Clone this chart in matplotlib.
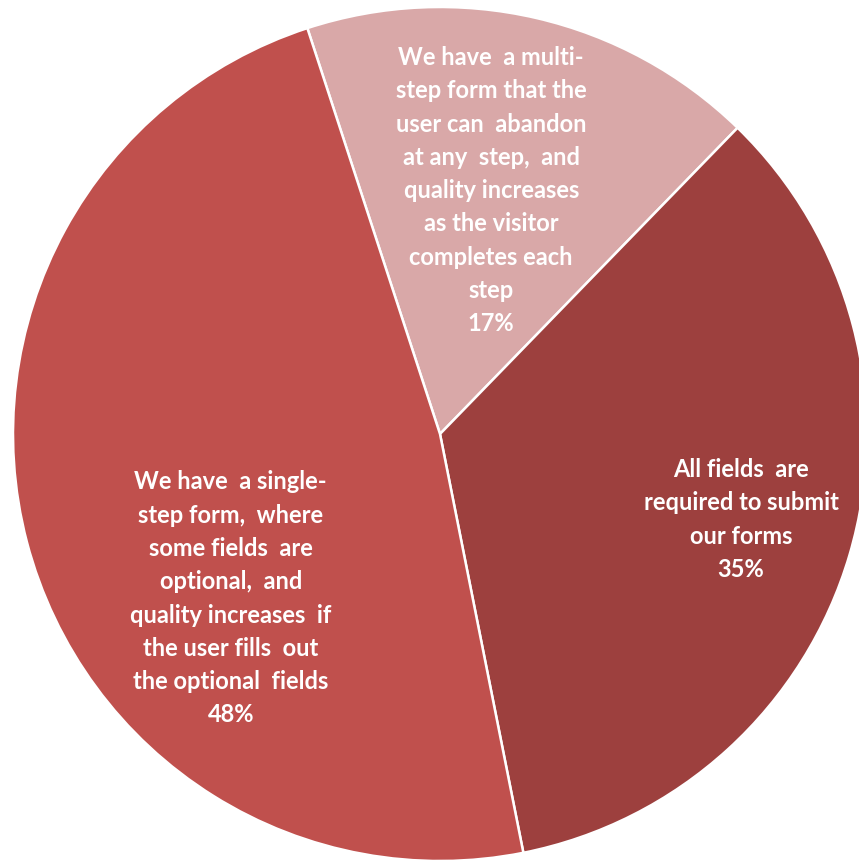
import matplotlib.pyplot as plt

labels = [
    "We have  a multi-\nstep form that the\nuser can  abandon\nat any  step,  and\nquality increases\nas the visitor\ncompletes each\nstep",
    "All fields  are\nrequired to submit\nour forms",
    "We have  a single-\nstep form,  where\nsome fields  are\noptional,  and\nquality increases  if\nthe user fills  out\nthe optional  fields",
]
shares = [17.3, 34.6, 48.1]  # slice sizes as drawn; labels show them rounded
colors = ['#D9A8A8', '#9D403E', '#C0504D']

# label centres, in pie units (radius 1)
label_pos = [(0.12, 0.57), (0.705, -0.2), (-0.49, -0.385)]

fig = plt.figure(figsize=(8.59, 8.60), dpi=100)
cx, cy, r = 440, 434, 427
ax = fig.add_axes([(cx - r) / 859, (860 - cy - r) / 860, 2 * r / 859, 2 * r / 860])

ax.pie(shares, colors=colors, startangle=108.1, counterclock=False,
       wedgeprops=dict(edgecolor='white', linewidth=1.8))

for lab, val, (x, y) in zip(labels, shares, label_pos):
    ax.text(x, y, f"{lab}\n{val:.0f}%", ha='center', va='center', color='white',
            fontsize=17, fontweight='bold', family='Lato', linespacing=1.54)

ax.set_xlim(-1, 1)
ax.set_ylim(-1, 1)
ax.axis('off')

plt.savefig("out.png", dpi=100)
